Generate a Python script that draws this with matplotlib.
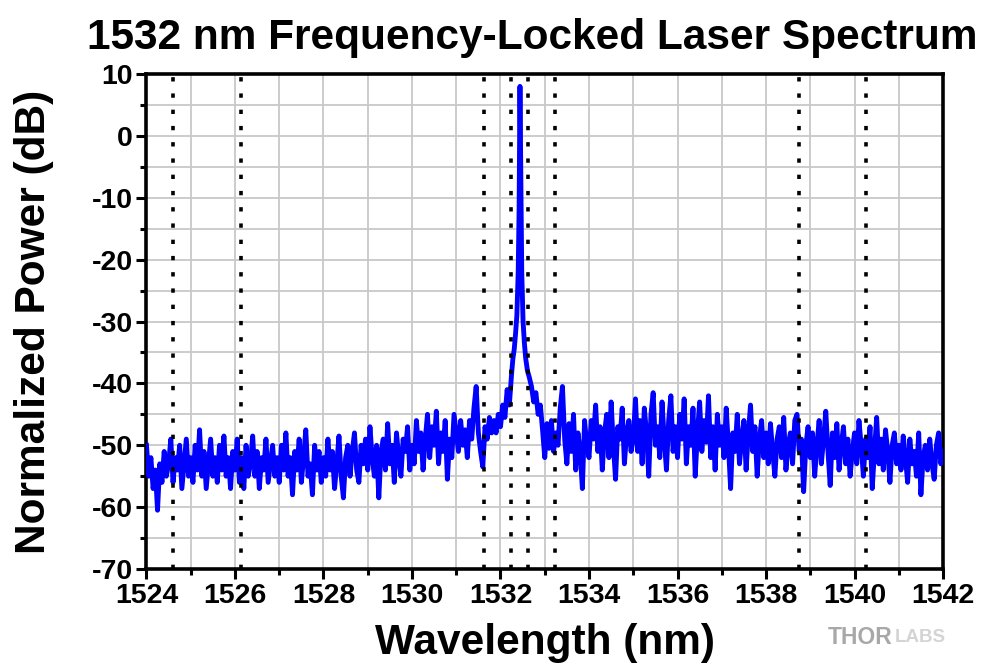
import numpy as np
import matplotlib
matplotlib.use("Agg")
import matplotlib.pyplot as plt
from matplotlib.ticker import MultipleLocator

plt.rcParams['font.family'] = ['Liberation Sans', 'DejaVu Sans']
plt.rcParams['font.weight'] = 'bold'
plt.rcParams['axes.unicode_minus'] = False

# --- data ---
# noise floor left of the peak, 1524.00 .. 1532.20 nm, 0.05 nm steps
left_db = [
    # 1524
    -50, -55, -52, -57, -54, -60.5, -53, -56, -51, -55, -53, -49, -56, -52, -54, -50, -57, -53, -49, -55,
    # 1525
    -52, -56, -50, -54, -47.5, -55, -51, -57, -53, -49, -55, -52, -56, -50, -54, -48.5, -55, -52, -57, -51,
    # 1526
    -54, -49, -56, -52, -57, -50, -55, -53, -48.5, -55, -51, -57, -52, -54, -49, -56, -53, -50, -55, -52,
    # 1527
    -56, -50, -54, -48, -55, -52, -58, -51, -54, -49, -56, -52, -47.5, -55, -53, -58, -50, -54, -51, -56,
    # 1528
    -52, -55, -49, -54, -51, -57, -53, -48.5, -55, -58.5, -52, -50, -55, -51, -48, -54, -56, -50, -53, -49,
    # 1529
    -54, -47, -52, -55, -50, -58.5, -51, -49, -54, -46.5, -53, -50, -56, -48, -52, -55, -49, -51, -47, -54,
    # 1530
    -50, -53, -46, -51, -48, -54, -49, -45, -52, -47, -50, -44.5, -53, -48, -51, -46, -55.5, -49, -52, -45,
    # 1531
    -48, -51, -46, -50, -47.5, -52, -46, -49, -44, -40.5, -48, -51, -53.5, -47, -49, -45.5, -48, -46, -48, -45,
    # 1532.00 .. 1532.20
    -47, -43.5, -45.5, -41, -43.5,
]

# locked laser line
peak_wl = [1532.25, 1532.28, 1532.31, 1532.34, 1532.37, 1532.40, 1532.42, 1532.44,
           1532.46, 1532.48, 1532.51, 1532.54, 1532.57, 1532.61, 1532.65, 1532.70]
peak_db = [-38.5, -36, -34.5, -32, -29, -22, -12, 8,
           -8, -22, -30, -33.5, -36, -38, -39, -40.5]

# noise floor right of the peak, 1532.75 .. 1542.00 nm, 0.05 nm steps
right_db = [
    # 1532.75 .. 1532.95
    -43, -41.5, -45, -43.5, -47.5,
    # 1533
    -52, -46.5, -50.5, -46, -51, -48, -50, -44, -40.5, -49, -53, -46.5, -51, -45, -54, -48, -51, -57, -46, -50,
    # 1534
    -52, -46, -49, -43.5, -51, -47, -54, -48, -45, -52, -43, -50, -55.5, -47, -49, -44, -53, -48, -46, -51,
    # 1535
    -49, -42.5, -51, -46, -53, -44, -48, -55, -45, -41.5, -50, -47, -52, -43, -49, -54, -46, -42, -51, -47,
    # 1536
    -52, -45, -49, -42.5, -53, -47, -50, -44, -55, -48, -43, -51, -46, -49.5, -42, -52, -47, -54, -45, -50,
    # 1537
    -47, -52, -44, -50, -57, -48, -51, -45, -53, -49, -46, -54, -48, -43.5, -51, -47, -55, -49, -46, -52,
    # 1538
    -48, -53, -46.5, -51, -55, -49, -47, -52, -45.5, -54, -50, -48, -53, -46, -45, -51, -49, -57.5, -50, -47,
    # 1539
    -52, -48, -55, -50, -46, -53, -49, -44.5, -51, -56.5, -48, -52, -46.5, -54, -50, -47, -53, -49, -55, -51,
    # 1540
    -48, -53, -46, -50, -55, -49, -52, -47, -57, -51, -45.5, -53, -49, -54, -47.5, -51, -56, -50, -48, -53,
    # 1541
    -50, -54, -48.5, -52, -56, -49, -53, -51, -55, -48, -58, -52, -50, -54, -49, -53, -55.5, -50, -48, -53,
    # 1542.00
    -51,
]

# dotted marker lines (nm)
marker_wl = [1524.61, 1526.13, 1531.63, 1532.24, 1532.63, 1533.24, 1538.74, 1540.25]

step = 0.05
left_wl = 1524.0 + step * np.arange(len(left_db))
right_wl = 1532.75 + step * np.arange(len(right_db))
wl = np.concatenate([left_wl, peak_wl, right_wl])
db = np.concatenate([left_db, peak_db, right_db])

# --- figure ---
fig = plt.figure(figsize=(9.91, 6.66), dpi=100)
ax = fig.add_axes([0.1478, 0.1456, 0.8038, 0.7433])

ax.plot(wl, db, color='#0000ff', lw=3.5, zorder=3)
for m in marker_wl:
    ax.axvline(m, color='black', lw=2.6, linestyle=(0, (1.2, 3.3)), zorder=4)

ax.set_xlim(1524, 1542)
ax.set_ylim(-70, 10)
ax.xaxis.set_major_locator(MultipleLocator(2))
ax.xaxis.set_minor_locator(MultipleLocator(1))
ax.yaxis.set_major_locator(MultipleLocator(10))
ax.yaxis.set_minor_locator(MultipleLocator(5))
ax.grid(which='both', color='#c8c8c8', lw=1.3, zorder=0)
ax.set_axisbelow(True)

for s in ax.spines.values():
    s.set_linewidth(2.6)
ax.tick_params(which='major', direction='out', length=7, width=2.2,
               labelsize=20.5, pad=3)
ax.tick_params(which='minor', direction='out', length=4, width=2.2)
for lab in ax.get_xticklabels() + ax.get_yticklabels():
    lab.set_fontweight('bold')

ax.set_xlabel('Wavelength (nm)', fontsize=30.5, fontweight='bold', labelpad=10)
ax.set_ylabel('Normalized Power (dB)', fontsize=30.5, fontweight='bold', labelpad=27)

fig.text(532 / 991, 1 - 38 / 666, '1532 nm Frequency-Locked Laser Spectrum',
         ha='center', va='center', fontsize=30.5, fontweight='bold')

fig.text(828 / 991, 1 - 638 / 666, 'THOR', ha='left', va='center',
         fontsize=16.5, fontweight='bold', color='#a8a8a8')
fig.text(895 / 991, 1 - 638 / 666, 'LABS', ha='left', va='center',
         fontsize=13.5, fontweight='bold', color='#d4d4d4')

fig.savefig('out.png', dpi=100)
